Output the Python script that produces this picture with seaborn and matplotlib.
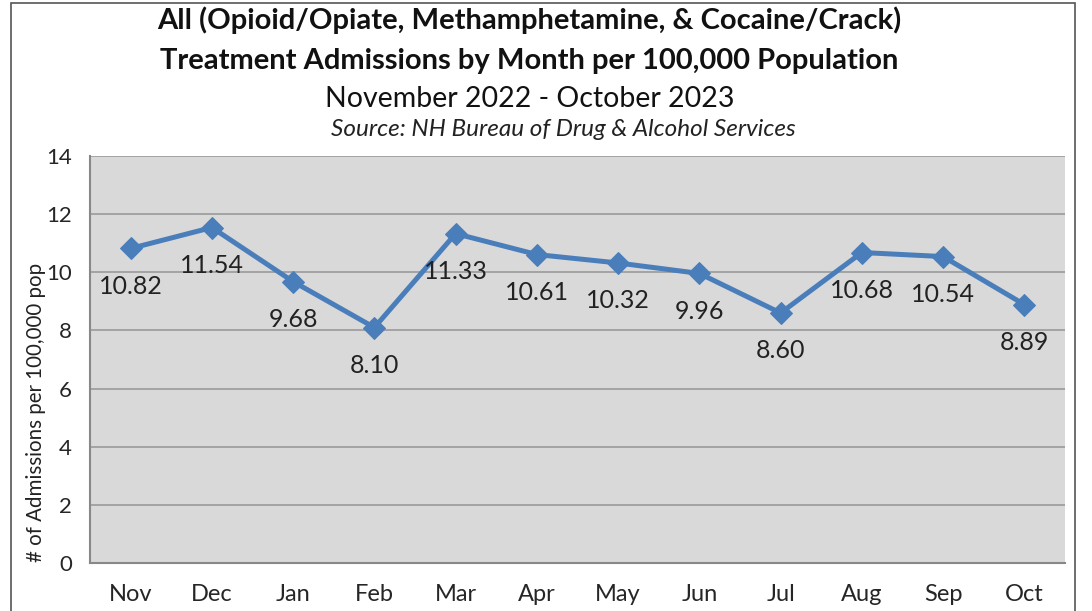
import matplotlib
matplotlib.use('Agg')
import matplotlib.pyplot as plt
import seaborn as sns
import pandas as pd
import numpy as np
from matplotlib.patches import Rectangle

# 데이터
months = ['Nov', 'Dec', 'Jan', 'Feb', 'Mar', 'Apr', 'May', 'Jun', 'Jul', 'Aug', 'Sep', 'Oct']
rates = [10.82, 11.54, 9.68, 8.10, 11.33, 10.61, 10.32, 9.96, 8.60, 10.68, 10.54, 8.89]

df = pd.DataFrame({'month': months, 'rate': rates})

sns.set_style('white')
plt.rcParams['font.family'] = ['Lato', 'DejaVu Sans']

fig = plt.figure(figsize=(10.92, 6.11), dpi=100)
ax = fig.add_axes([90 / 1092, 1 - 563 / 611, (1065 - 90) / 1092, (563 - 156) / 611])

line_color = '#4a7ebb'
sns.lineplot(data=df, x='month', y='rate', ax=ax, color=line_color, linewidth=3.6,
             marker='D', markersize=11, markeredgecolor=line_color, sort=False)

# 데이터 라벨 (점 아래)
for i, v in enumerate(rates):
    ax.annotate(f'{v:.2f}', (i, v), xytext=(0, -19), textcoords='offset points',
                ha='center', va='top', fontsize=18, color='#222222')

ax.set_facecolor('#d9d9d9')
ax.set_xlim(-0.5, len(months) - 0.5)
ax.set_ylim(0, 14)
ax.set_yticks(range(0, 15, 2))
ax.yaxis.grid(True, color='#9a9a9a', linewidth=1.2)
ax.set_axisbelow(True)

# x축 눈금: 범주 경계
ax.set_xticks(range(len(months)))
ax.set_xticklabels(months, fontsize=17)
ax.set_xticks(np.arange(-0.5, len(months), 1), minor=True)
ax.tick_params(axis='x', which='major', length=0, pad=15)
ax.tick_params(axis='x', which='minor', length=7, width=1.2, color='#888888', direction='out')
ax.tick_params(axis='y', length=7, width=1.2, color='#888888', direction='out', labelsize=16, pad=6)

for side in ['top', 'right']:
    ax.spines[side].set_visible(False)
for side in ['left', 'bottom']:
    ax.spines[side].set_color('#888888')
    ax.spines[side].set_linewidth(1.5)

ax.set_xlabel('')
ax.set_ylabel('# of Admissions per 100,000 pop', fontsize=14.8, color='#222222')
ax.yaxis.set_label_coords(-0.045, 0.37)

# 제목
fig.text(0.485, 1 - 20 / 611, 'All (Opioid/Opiate, Methamphetamine, & Cocaine/Crack)',
         ha='center', va='center', fontsize=21, fontweight='bold', color='#111111')
fig.text(0.485, 1 - 61 / 611, 'Treatment Admissions by Month per 100,000 Population',
         ha='center', va='center', fontsize=21, fontweight='bold', color='#111111')
fig.text(0.485, 1 - 99 / 611, 'November 2022 - October 2023',
         ha='center', va='center', fontsize=20.5, color='#111111')
fig.text(0.516, 1 - 130 / 611, 'Source: NH Bureau of Drug & Alcohol Services',
         ha='center', va='center', fontsize=17.5, style='italic', color='#222222')

# 바깥 테두리
fig.patches.append(Rectangle((11 / 1092, -0.05), (1075 - 11) / 1092, 1.05 - 3 / 611,
                             transform=fig.transFigure, fill=False,
                             edgecolor='#555555', linewidth=1.2))

fig.savefig('out.png', dpi=100)
